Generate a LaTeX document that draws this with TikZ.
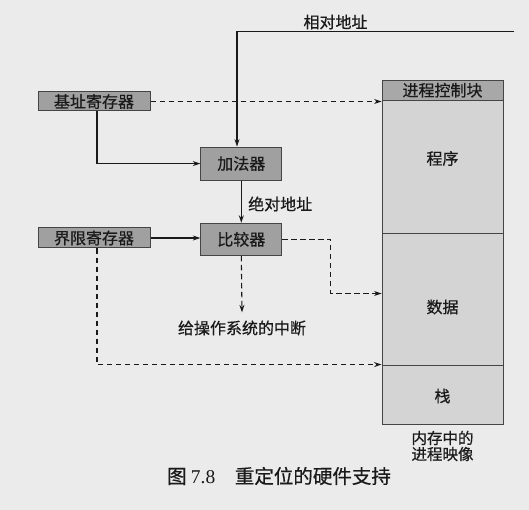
\documentclass[tikz,border=0pt]{standalone}
\usepackage{fontspec}
\setmainfont{Noto Sans CJK SC}[FakeBold=0.6]
\newfontfamily\latinserif{Liberation Serif}
\usetikzlibrary{arrows.meta}
\definecolor{bg}{HTML}{EBEBEB}
\definecolor{boxfill}{HTML}{A0A0A0}
\definecolor{memfill}{HTML}{D4D4D4}
\definecolor{pcbfill}{HTML}{A8A8A8}
\definecolor{ink}{HTML}{1A1A1A}
\definecolor{edge}{HTML}{454545}
\tikzset{
  regbox/.style={draw=edge, fill=boxfill, line width=1pt, inner sep=0pt, font=\fontsize{16}{16}\selectfont, text=ink},
  memrect/.style={draw=edge, fill=memfill, line width=0.9pt, inner sep=0pt, minimum width=121pt},
  lbl/.style={font=\fontsize{16}{16}\selectfont, text=ink, inner sep=0pt},
  conn/.style={draw=ink, line width=1.1pt, -{Stealth[length=7.5pt,width=5pt]}},
  dconn/.style={conn, dash pattern=on 5.5pt off 3.5pt},
}
\begin{document}
\begin{tikzpicture}[x=1pt,y=-1pt]
\useasboundingbox (0,0) rectangle (529,510);
\fill[bg] (0,0) rectangle (529,510);

% registers and units
\node[regbox, minimum width=112pt, minimum height=19pt] (base) at (94,101.5) {基址寄存器};
\node[regbox, minimum width=112pt, minimum height=20pt] (limit) at (94,238) {界限寄存器};
\node[regbox, minimum width=81pt, minimum height=33pt] (adder) at (241.3,163.6) {加法器};
\node[regbox, minimum width=81pt, minimum height=32pt] (comp) at (241.3,239.3) {比较器};

% memory column
\node[memrect, fill=pcbfill, minimum height=20.5pt] (pcb) at (442.5,90.25) {};
\node[memrect, minimum height=132.5pt] (prog) at (442.5,166.75) {};
\node[memrect, minimum height=132pt] (data) at (442.5,299) {};
\node[memrect, minimum height=59pt] (stack) at (442.5,394.5) {};
\node[lbl] (pcbt) at (pcb.center) {进程控制块};
\node[lbl] (progt) at (442.5,158.5) {程序};
\node[lbl] (datat) at (442.5,307) {数据};
\node[lbl] (stackt) at (442.5,396) {栈};
\node[lbl, align=center, font=\fontsize{15.5}{16}\selectfont] (memcap) at (442.5,446) {内存中的\\进程映像};

% labels
\node[lbl] (relt) at (335.5,22) {相对地址};
\node[lbl, anchor=west] (abst) at (248,204) {绝对地址};
\node[lbl, inner ysep=8pt] (intr) at (242,328) {给操作系统的中断};
\node[lbl, font=\fontsize{19.5}{20}\selectfont] (caption) at (279,476) {图 {\latinserif 7.8}\hspace{1em}重定位的硬件支持};

% connectors
\coordinate (relend) at (514,31.5);
\coordinate (relcorner) at (237,31.5);
\draw[conn] (relend) -- (relcorner) -- (relcorner |- adder.north);
\draw[conn] ([xshift=3pt]base.south) |- (adder.west);
\draw[dconn] (base.east) -- (base.east -| prog.west);
\draw[conn] (adder.south) -- (comp.north);
\draw[conn] (limit.east) -- (limit.east -| comp.west);
\coordinate (elbow) at (330.7,293.5);
\draw[dconn] (comp.east) -| (elbow) -- (elbow -| data.west);
\draw[dconn] (comp.south) -- (intr.north);
\draw[dconn] ([xshift=3pt]limit.south) |- (stack.north west);
\end{tikzpicture}
\end{document}
